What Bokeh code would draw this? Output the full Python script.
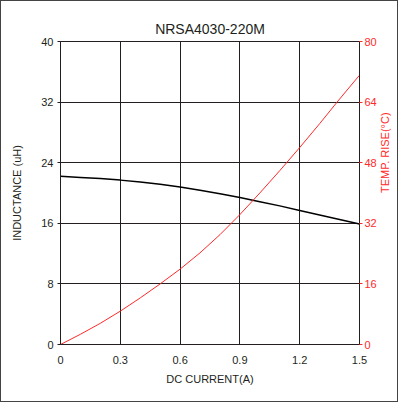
import math
from bokeh.plotting import figure
from bokeh.models import Range1d, LinearAxis, FixedTicker
from bokeh.embed import file_html
from bokeh.resources import INLINE

current = [0.0, 0.1, 0.2, 0.3, 0.4, 0.5, 0.6, 0.7, 0.8, 0.9, 1.0, 1.1, 1.2, 1.3, 1.4, 1.5]
inductance = [22.2, 22.05, 21.9, 21.7, 21.45, 21.15, 20.8, 20.35, 19.9, 19.4, 18.85, 18.3, 17.7, 17.1, 16.5, 15.9]
temp_rise = [0.0, 2.7, 5.6, 8.8, 12.3, 16.0, 19.9, 24.2, 29.0, 34.3, 40.0, 45.9, 52.0, 58.3, 64.8, 71.1]

x_ticks = [0, 0.3, 0.6, 0.9, 1.2, 1.5]
x_tick_labels = ["0", "0.3", "0.6", "0.9", "1.2", "1.5"]
left_ticks = [0, 8, 16, 24, 32, 40]
right_ticks = [0, 16, 32, 48, 64, 80]

FONT = "Liberation Sans"
RED = "#ff2a2a"
DARK = "#231f20"

p = figure(width=398, height=402,
           x_range=Range1d(0, 1.5), y_range=Range1d(0, 40),
           output_backend="svg", toolbar_location=None,
           min_border_left=59, min_border_right=35, min_border_top=40, min_border_bottom=59,
           title="NRSA4030-220M")
p.extra_y_ranges = {"temp": Range1d(0, 80)}

p.title.align = "center"
p.title.text_font = FONT
p.title.text_font_size = "14px"
p.title.text_font_style = "normal"
p.title.text_color = DARK

p.outline_line_color = DARK
p.outline_line_width = 1
p.outline_line_alpha = 1

p.xgrid.ticker = FixedTicker(ticks=x_ticks)
p.ygrid.ticker = FixedTicker(ticks=left_ticks)
for g in (p.xgrid, p.ygrid):
    g.grid_line_color = DARK
    g.grid_line_alpha = 1
    g.grid_line_width = 1

xa = p.xaxis[0]
xa.ticker = FixedTicker(ticks=x_ticks)
xa.major_label_overrides = {t: l for t, l in zip(x_ticks, x_tick_labels)}
xa.axis_label = "DC CURRENT(A)"

ya = p.yaxis[0]
ya.ticker = FixedTicker(ticks=left_ticks)
ya.axis_label = "INDUCTANCE (uH)"

ra = LinearAxis(y_range_name="temp", ticker=FixedTicker(ticks=right_ticks),
                axis_label="TEMP. RISE(\u00b0C)")
p.add_layout(ra, "right")

for ax in (xa, ya, ra):
    ax.major_label_text_font = FONT
    ax.major_label_text_font_size = "11px"
    ax.axis_label_text_font = FONT
    ax.axis_label_text_font_size = "11px"
    ax.axis_label_text_font_style = "normal"
    ax.minor_tick_line_color = None
    ax.major_tick_in = 0
    ax.major_tick_out = 3
    ax.axis_line_color = DARK
    ax.major_tick_line_color = DARK
    ax.major_label_text_color = DARK
    ax.axis_label_text_color = DARK
    ax.major_label_standoff = 4
    ax.axis_label_standoff = 6

xa.major_tick_line_color = None
xa.major_label_standoff = 8
ya.axis_label_standoff = 15
ra.axis_line_color = DARK
ra.major_tick_line_color = RED
ra.major_label_text_color = RED
ra.axis_label_text_color = RED
ra.major_label_standoff = 2
ra.axis_label_standoff = 5
ra.axis_label_orientation = math.pi / 2

p.line(current, inductance, line_color="black", line_width=1.5)
p.line(current, temp_rise, line_color=RED, line_width=1, y_range_name="temp")

p.styles = {"border": "1px solid #444"}

open("out.html", "w").write(file_html(p, INLINE))
